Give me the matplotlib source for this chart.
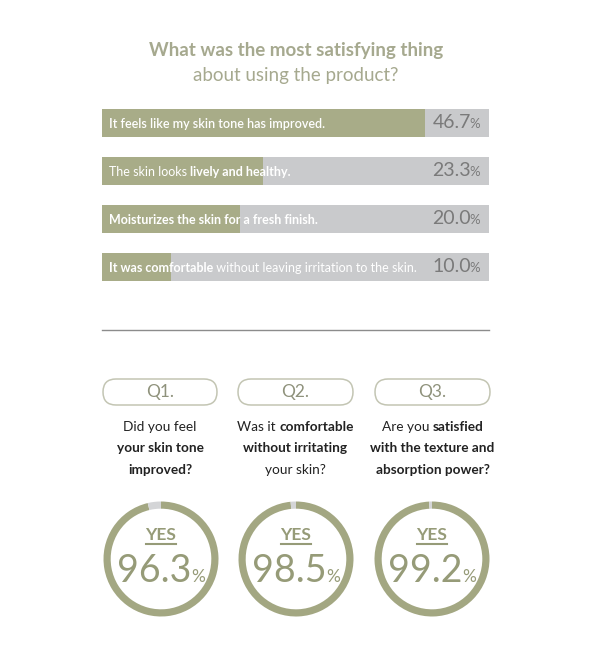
"""
Survey infographic: most satisfying thing + Q1-Q3 yes rates
"""

import matplotlib.pyplot as plt
from matplotlib.patches import FancyBboxPatch

# Data
bar_pieces = [
    [("It feels like my skin tone has improved.", "semibold")],
    [("The skin looks ", "normal"), ("lively and healthy.", "bold")],
    [("Moisturizes the skin for a fresh finish.", "bold")],
    [("It was comfortable", "bold"), (" without leaving irritation to the skin.", "normal")],
]
bar_values = [46.7, 23.3, 20.0, 10.0]
bar_scale_max = 56

q_labels = ["Q1.", "Q2.", "Q3."]
q_lines = [
    [[("Did you feel", "normal")], [("your skin tone", "bold")], [("improved?", "bold")]],
    [[("Was it ", "normal"), ("comfortable", "bold")], [("without irritating", "bold")],
     [("your skin?", "normal")]],
    [[("Are you ", "normal"), ("satisfied", "bold")], [("with the texture and", "bold")],
     [("absorption power?", "bold")]],
]
yes_values = [96.3, 98.5, 99.2]

W, H = 600, 646
FONT = "Lato"
GREEN = "#a8ac88"
RING_GREEN = "#a3a782"
GREY_BAR = "#c9cacc"
RING_GREY = "#d4d5d7"
TITLE_C = "#a6a98f"
NUM_C = "#969b78"

plt.rcParams['font.family'] = [FONT, 'DejaVu Sans']

fig = plt.figure(figsize=(W / 100, H / 100), dpi=100)
fig.patch.set_facecolor("white")


def px_rect(x0, y0, x1, y1):
    return [x0 / W, 1 - y1 / H, (x1 - x0) / W, (y1 - y0) / H]


# bar chart axes
ax_bar = fig.add_axes(px_rect(102, 99, 489, 291))
ypos = list(range(len(bar_values)))
ax_bar.barh(ypos, [bar_scale_max] * len(ypos), height=0.59, color=GREY_BAR)
ax_bar.barh(ypos, bar_values, height=0.59, color=GREEN)
ax_bar.set_xlim(0, bar_scale_max)
ax_bar.set_ylim(3.5, -0.5)
ax_bar.axis("off")

# donut axes
centers = [161, 296, 432]
cy, r = 559, 57.5
for cx, v in zip(centers, yes_values):
    ax = fig.add_axes(px_rect(cx - r, cy - r, cx + r, cy + r))
    ax.pie([v, 100 - v], colors=[RING_GREEN, RING_GREY], startangle=90,
           counterclock=False, radius=1, wedgeprops=dict(width=0.125, linewidth=0))
    ax.set_xlim(-1, 1)
    ax.set_ylim(-1, 1)
    ax.set_aspect("equal")
    ax.axis("off")

# overlay in pixel coordinates for text and decoration
ov = fig.add_axes([0, 0, 1, 1], zorder=5)
ov.set_xlim(0, W)
ov.set_ylim(H, 0)
ov.axis("off")
ov.patch.set_alpha(0)

renderer = fig.canvas.get_renderer()


def rich_line(x, y, pieces, size, color, ha="left"):
    texts = []
    for txt, wt in pieces:
        t = ov.text(0, y, txt, fontsize=size, color=color, fontweight=wt,
                    va="baseline", ha="left")
        texts.append(t)
    widths = [t.get_window_extent(renderer).width for t in texts]
    total = sum(widths)
    start = x - total / 2 if ha == "center" else x
    for t, w in zip(texts, widths):
        t.set_x(start)
        start += w


# title
ov.text(296, 56, "What was the most satisfying thing", fontsize=13.5, fontweight="bold",
        color=TITLE_C, ha="center", va="baseline")
ov.text(296, 81, "about using the product?", fontsize=13.5, color=TITLE_C,
        ha="center", va="baseline")

# bar labels and percentages
for i, (pieces, v) in enumerate(zip(bar_pieces, bar_values)):
    ydisp = ax_bar.transData.transform((0, i))[1]
    yb = H - ydisp + 4.5
    rich_line(109, yb, pieces, 9.0, "white")
    tp = ov.text(480, yb + 1, "%", fontsize=9.5, color="#7a7a7a", ha="right", va="baseline")
    wp = tp.get_window_extent(renderer).width
    ov.text(481.5 - wp, yb + 1, f"{v:.1f}", fontsize=14, color="#7a7a7a",
            ha="right", va="baseline")

# divider
ov.plot([102, 489], [330, 330], color="#8c8c8c", lw=1)

# Q pills and questions
pill_x = [(103, 217), (238, 353), (375, 490)]
for (x0, x1), lab, lines in zip(pill_x, q_labels, q_lines):
    ov.add_patch(FancyBboxPatch((x0, 379), x1 - x0, 26,
                                boxstyle="round,pad=0,rounding_size=13",
                                fc="none", ec="#c3c5b3", lw=1.1))
    ov.text((x0 + x1) / 2, 397.5, lab, fontsize=12.5, color="#8f927c",
            ha="center", va="baseline")
    for k, line in enumerate(lines):
        rich_line((x0 + x1) / 2, 431 + k * 21.5, line, 9.8, "#222222", ha="center")

# donut centre text
for cx, v in zip(centers, yes_values):
    ov.text(cx, 540, "YES", fontsize=12.5, fontweight="bold", color=NUM_C,
            ha="center", va="baseline")
    ov.plot([cx - 15, cx + 15], [544, 544], color=NUM_C, lw=1.5)
    tn = ov.text(0, 582, f"{v:.1f}", fontsize=27, color=NUM_C, va="baseline")
    tpc = ov.text(0, 582, "%", fontsize=12.5, color=NUM_C, va="baseline")
    wn = tn.get_window_extent(renderer).width
    wpc = tpc.get_window_extent(renderer).width
    x0 = cx - (wn + wpc) / 2
    tn.set_x(x0)
    tpc.set_x(x0 + wn)

fig.savefig("out.png", dpi=100)
